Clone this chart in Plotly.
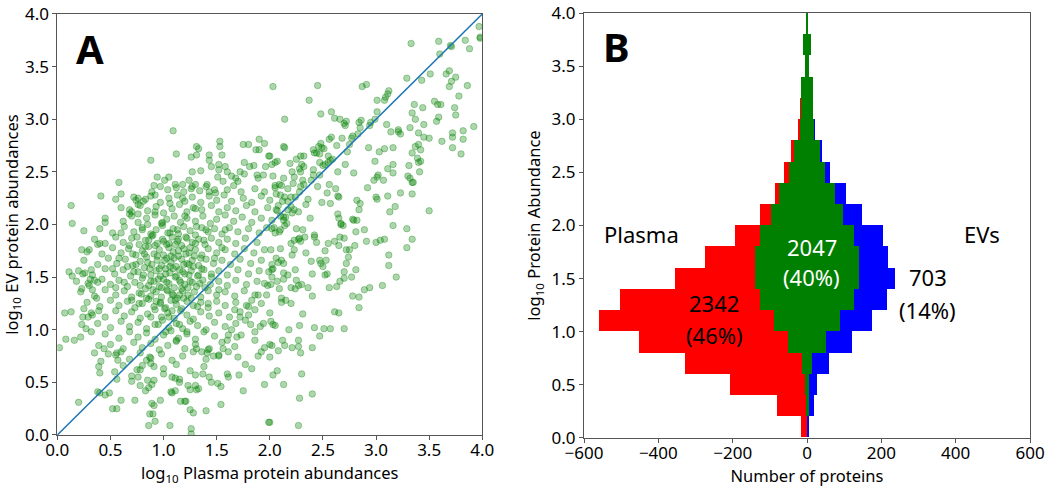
import plotly.graph_objects as go

# ---- panel A: log10 abundances of proteins seen in both plasma and EVs (plasma, EV) ----
upper_right = [
    (2.03, 3.31), (2.45, 3.32), (2.37, 3.18), (2.14, 3.00), (2.87, 3.31), (2.91, 3.33), (3.33, 3.72), (3.59, 3.74),
    (3.60, 3.62), (3.70, 3.70), (3.71, 3.69), (3.84, 3.75), (3.88, 3.67), (3.97, 3.88), (3.98, 3.78), (3.98, 3.77),
    (3.29, 3.39), (3.43, 3.37), (3.51, 3.43), (3.66, 3.43), (3.69, 3.46), (3.75, 3.40), (3.71, 3.36), (3.69, 3.31),
    (3.86, 3.32), (3.78, 3.22), (3.12, 3.27), (3.11, 3.24), (3.09, 3.21), (3.08, 3.18), (3.01, 3.18), (3.01, 3.07),
    (2.58, 3.07), (2.48, 3.05), (2.61, 3.01), (2.66, 3.00), (2.72, 2.98), (2.71, 2.94), (2.70, 2.96), (2.84, 2.97),
    (2.86, 2.99), (2.95, 2.97), (2.94, 2.94), (2.99, 3.00), (2.85, 2.92), (2.83, 2.86), (3.10, 2.95), (3.36, 3.14),
    (3.55, 3.17), (3.58, 3.14), (3.61, 3.14), (3.44, 3.11), (3.74, 3.11), (3.75, 3.04), (3.34, 3.06), (3.37, 3.00),
    (3.59, 3.02), (3.57, 2.98), (3.45, 2.95), (3.32, 2.92), (3.21, 2.90), (3.21, 2.88), (3.23, 2.86), (3.14, 2.88),
    (3.40, 2.87), (3.45, 2.83), (3.50, 2.82), (3.72, 2.87), (3.72, 2.83), (3.82, 2.89), (3.92, 2.93), (3.62, 2.79),
    (3.82, 2.81), (3.72, 2.73), (3.80, 2.67), (3.37, 2.74), (3.40, 2.76), (3.42, 2.71), (3.34, 2.68), (3.39, 2.63),
    (3.40, 2.59), (3.42, 2.60), (3.31, 2.56), (3.41, 2.50), (3.30, 2.46), (3.32, 2.44), (3.34, 2.40), (3.35, 2.40),
    (3.34, 2.29), (3.50, 2.13), (3.23, 2.30), (3.16, 2.57), (3.11, 2.53), (3.16, 2.49), (3.07, 2.42), (2.93, 2.73),
    (3.03, 2.69), (3.08, 2.72), (3.16, 2.73), (2.99, 2.60), (3.02, 2.47), (3.01, 2.45), (2.98, 2.42), (2.92, 2.35),
    (3.00, 2.26), (3.01, 2.24), (3.11, 2.27), (3.18, 2.17), (3.13, 2.12), (2.79, 2.49), (2.71, 2.57), (2.82, 2.04),
    (2.78, 2.05), (2.85, 2.20), (2.82, 2.23), (2.84, 2.14), (2.64, 2.10), (2.65, 2.06), (2.67, 2.01), (2.49, 2.21),
    (2.57, 2.20), (2.62, 2.34), (2.64, 2.27), (2.65, 2.26), (2.56, 2.38), (2.54, 2.30), (2.34, 2.19), (2.38, 2.06),
    (2.27, 2.12), (2.47, 2.47), (2.64, 2.50), (2.73, 2.69), (2.68, 2.82), (2.77, 2.82), (2.78, 2.84), (2.75, 2.76),
    (2.63, 2.75), (2.58, 2.83), (2.56, 2.81), (2.48, 2.77), (2.46, 2.74), (2.49, 2.73), (2.51, 2.72), (2.41, 2.71),
    (2.42, 2.68), (2.44, 2.68), (2.47, 2.67), (2.55, 2.65), (2.59, 2.62), (2.47, 2.59), (2.50, 2.56), (2.52, 2.57),
    (2.55, 2.59), (2.57, 2.61), (2.29, 2.65), (2.32, 2.65), (2.13, 2.74), (2.14, 2.73), (2.00, 2.65), (2.02, 2.57),
    (2.05, 2.59), (2.07, 2.60), (2.28, 2.53), (2.29, 2.50), (2.32, 2.55), (2.30, 2.57), (2.21, 2.50), (2.23, 2.45),
    (2.13, 2.44), (2.03, 2.46), (2.05, 2.37), (2.09, 2.38), (2.11, 2.37), (2.17, 2.34), (2.22, 2.39), (2.31, 2.42),
    (2.32, 2.38), (2.29, 2.36), (2.28, 2.31), (2.41, 2.52), (2.41, 2.47), (2.39, 2.42), (2.06, 2.29), (2.10, 2.28),
    (2.14, 2.26), (2.20, 2.26), (2.24, 2.26), (2.06, 2.14), (2.07, 2.13), (2.17, 2.22), (2.20, 2.17), (2.23, 2.14),
    (2.21, 2.11), (2.13, 2.07), (2.15, 2.07), (2.45, 2.36), (2.36, 2.24), (2.25, 2.62), (2.19, 2.58),
]

lower_right = [
    (2.25, 1.96), (2.31, 1.95), (2.02, 1.96), (2.05, 1.92), (2.09, 1.93), (2.10, 1.95), (2.14, 1.99), (2.16, 2.01),
    (2.13, 2.04), (2.04, 1.97), (2.42, 1.90), (2.42, 1.88), (2.33, 1.88), (2.20, 1.82), (2.23, 1.85), (2.27, 1.86),
    (2.29, 1.84), (2.28, 1.87), (2.44, 1.83), (2.55, 1.82), (2.61, 1.84), (2.65, 1.80), (2.66, 1.88), (2.70, 1.87),
    (2.67, 2.00), (2.69, 1.99), (2.79, 2.04), (2.81, 1.93), (2.89, 1.95), (2.91, 1.84), (3.00, 1.83), (3.04, 1.85),
    (3.08, 1.86), (3.16, 1.99), (3.29, 1.96), (3.34, 1.86), (3.29, 1.78), (2.80, 1.80), (2.72, 1.76), (2.75, 1.76),
    (2.52, 1.75), (2.34, 1.73), (2.23, 1.76), (2.21, 1.71), (2.10, 1.77), (2.01, 1.76), (2.06, 1.68), (2.08, 1.64),
    (2.11, 1.66), (2.13, 1.63), (2.02, 1.57), (2.03, 1.58), (2.13, 1.54), (2.17, 1.52), (2.24, 1.57), (2.39, 1.65),
    (2.47, 1.66), (2.48, 1.63), (2.50, 1.60), (2.53, 1.66), (2.52, 1.52), (2.54, 1.53), (2.40, 1.53), (2.72, 1.63),
    (2.74, 1.69), (2.81, 1.57), (2.70, 1.55), (2.70, 1.49), (2.66, 1.46), (2.77, 1.50), (3.12, 1.71), (3.12, 1.61),
    (3.19, 1.50), (3.06, 1.42), (2.89, 1.38), (2.94, 1.40), (2.78, 1.32), (2.84, 1.31), (2.84, 1.21), (2.63, 1.41),
    (2.56, 1.40), (2.36, 1.40), (2.25, 1.47), (2.27, 1.42), (2.30, 1.43), (2.20, 1.40), (2.24, 1.39), (2.13, 1.48),
    (2.07, 1.46), (2.09, 1.39), (2.11, 1.30), (2.15, 1.28), (2.11, 1.26), (2.20, 1.25), (2.40, 1.32), (2.31, 1.15),
    (2.61, 1.17), (2.65, 1.16), (2.42, 1.02), (2.57, 1.01), (2.47, 0.94), (2.28, 1.04), (2.18, 1.00), (2.12, 0.90),
    (2.27, 0.90), (2.14, 0.85), (2.21, 0.83), (2.27, 0.84), (2.29, 0.78), (2.40, 0.83), (2.08, 0.80), (2.00, 0.74),
    (2.03, 0.57), (2.07, 0.61), (2.30, 0.58), (2.13, 0.48), (2.28, 0.35), (2.40, 0.39), (2.00, 0.12), (2.27, 0.09),
    (2.00, 1.16), (2.01, 1.08), (2.03, 1.05), (2.05, 1.04), (2.00, 0.86), (2.02, 0.85), (2.02, 1.50), (2.01, 1.43),
    (2.70, 1.01), (2.51, 1.01),
]

left_and_bottom = [
    (1.09, 2.89), (1.12, 2.67), (0.88, 2.61), (0.94, 2.45), (0.58, 2.40), (0.41, 2.27), (0.55, 2.24), (0.60, 2.29),
    (0.13, 2.18), (0.14, 2.01), (0.45, 2.02), (1.26, 2.64), (1.31, 2.66), (1.31, 2.74), (1.33, 2.72), (1.53, 2.79),
    (1.53, 2.74), (1.55, 2.66), (1.52, 2.57), (1.43, 2.66), (1.43, 2.61), (1.45, 2.55), (1.35, 2.51), (1.27, 2.50),
    (1.75, 2.76), (1.80, 2.76), (1.90, 2.81), (1.95, 2.77), (1.87, 2.71), (1.90, 2.71), (1.99, 2.65), (1.76, 2.59),
    (1.81, 2.55), (1.85, 2.56), (1.96, 2.55), (1.88, 2.47), (1.89, 2.44), (1.94, 2.47), (1.72, 2.50), (1.76, 2.48),
    (1.58, 2.55), (1.52, 2.52), (1.60, 2.50), (1.64, 2.46), (1.68, 2.44), (1.70, 2.41), (1.01, 2.42), (1.05, 2.45),
    (1.11, 2.38), (1.18, 2.38), (1.24, 2.42), (1.27, 2.36), (1.30, 2.38), (1.41, 2.38), (1.43, 2.31), (1.48, 2.33),
    (1.51, 2.45), (1.56, 2.41), (0.91, 2.37), (0.89, 2.31), (0.92, 2.28), (0.76, 2.25), (0.74, 2.23), (0.83, 2.24),
    (0.76, 2.19), (0.68, 2.14), (0.68, 2.10), (0.25, 1.94), (0.38, 1.81), (0.40, 1.82), (0.23, 1.76), (0.28, 1.74),
    (0.11, 1.55), (0.14, 1.51), (0.24, 1.53), (0.26, 1.54), (0.32, 1.57), (0.31, 1.48), (0.35, 1.47), (0.38, 1.45),
    (0.23, 1.39), (0.29, 1.44), (0.33, 1.38), (0.37, 1.30), (0.07, 1.16), (0.13, 1.17), (0.25, 1.20), (0.24, 1.12),
    (0.29, 1.12), (0.33, 1.14), (0.39, 1.18), (0.23, 1.05), (0.27, 1.01), (0.32, 0.98), (0.08, 0.91), (0.16, 0.90),
    (0.22, 0.93), (0.02, 0.83), (0.35, 0.78), (0.39, 0.85), (0.39, 0.65), (0.41, 0.70), (0.40, 0.59), (0.38, 0.41),
    (0.40, 0.40), (0.45, 0.38), (0.49, 0.40), (0.56, 0.53), (0.54, 0.60), (0.57, 0.71), (0.56, 0.78), (0.60, 0.79),
    (0.48, 0.77), (0.44, 0.82), (0.20, 0.31), (0.52, 0.25), (0.56, 0.25), (0.60, 0.33), (0.70, 0.51), (0.73, 0.33),
    (0.76, 0.55), (0.78, 0.47), (0.83, 0.42), (0.86, 0.45), (0.89, 0.48), (0.91, 0.52), (0.78, 0.62), (0.80, 0.66),
    (0.84, 0.71), (0.87, 0.74), (0.91, 0.65), (0.89, 0.30), (0.91, 0.28), (0.87, 0.20), (0.90, 0.20), (0.92, 0.13),
    (0.86, 0.09), (0.97, 0.33), (1.06, 0.09), (1.07, 0.41), (1.08, 0.40), (1.11, 0.42), (1.16, 0.32), (1.20, 0.32),
    (1.21, 0.32), (1.08, 0.55), (1.11, 0.54), (1.15, 0.50), (1.23, 0.47), (1.25, 0.43), (1.30, 0.47), (1.31, 0.43),
    (1.33, 0.44), (1.25, 0.24), (1.28, 0.21), (1.26, 0.06), (1.26, 0.01), (1.40, 0.23), (1.37, 0.58), (1.43, 0.55),
    (1.45, 0.50), (1.51, 0.49), (1.54, 0.46), (1.54, 0.29), (1.60, 0.58), (1.61, 0.55), (1.71, 0.57), (1.75, 0.42),
    (1.77, 0.67), (1.83, 0.63), (1.89, 0.75), (1.92, 0.79), (1.95, 0.83), (1.95, 0.48), (1.99, 0.12), (1.86, 0.90),
    (1.86, 0.98), (1.91, 1.03), (1.94, 1.06), (1.77, 1.09), (1.80, 1.14), (1.70, 0.74), (1.67, 0.84), (1.61, 0.79),
    (1.56, 0.82), (1.52, 0.75), (1.47, 0.75), (1.43, 0.82), (1.41, 0.78), (1.36, 0.79), (1.31, 0.82), (1.61, 0.95),
    (1.64, 1.00), (1.69, 0.93), (1.73, 0.95), (1.82, 1.05), (1.86, 1.19), (1.92, 1.25), (1.97, 1.33), (1.67, 1.19),
    (1.72, 1.12), (1.78, 1.23), (1.83, 1.28), (1.89, 1.33), (1.95, 1.44), (1.99, 1.55),
]

core = [
    (0.97, 2.36), (1.04, 2.33), (1.12, 2.35), (1.19, 2.31), (1.26, 2.34), (1.34, 2.32), (1.40, 2.36), (1.49, 2.30),
    (1.60, 2.33), (1.66, 2.37), (1.73, 2.31), (1.86, 2.34), (1.95, 2.31), (2.05, 2.35),
    (0.72, 2.26), (0.81, 2.22), (0.88, 2.27), (0.97, 2.21), (1.05, 2.25), (1.13, 2.28), (1.20, 2.22), (1.27, 2.26),
    (1.35, 2.21), (1.43, 2.27), (1.50, 2.23), (1.57, 2.28), (1.64, 2.22), (1.75, 2.25), (1.83, 2.21), (1.92, 2.27),
    (2.00, 2.23), (2.12, 2.22),
    (0.60, 2.16), (0.70, 2.12), (0.78, 2.18), (0.85, 2.13), (0.93, 2.17), (1.00, 2.11), (1.08, 2.15), (1.15, 2.19),
    (1.22, 2.12), (1.28, 2.16), (1.36, 2.14), (1.45, 2.18), (1.52, 2.12), (1.60, 2.16), (1.68, 2.13), (1.78, 2.18),
    (1.86, 2.12), (1.98, 2.16), (2.08, 2.18), (2.17, 2.14),
    (0.45, 2.06), (0.62, 2.03), (0.70, 2.08), (0.76, 2.02), (0.84, 2.06), (0.92, 2.09), (0.98, 2.01), (1.03, 2.05),
    (1.10, 2.08), (1.16, 2.02), (1.22, 2.06), (1.30, 2.03), (1.37, 2.08), (1.44, 2.01), (1.50, 2.05), (1.58, 2.09),
    (1.66, 2.03), (1.74, 2.07), (1.83, 2.02), (1.92, 2.06), (2.02, 2.04), (2.10, 2.08),
    (0.40, 1.96), (0.52, 1.92), (0.63, 1.98), (0.72, 1.93), (0.80, 1.97), (0.88, 1.91), (0.93, 1.95), (0.99, 1.99),
    (1.04, 1.92), (1.09, 1.96), (1.14, 1.91), (1.19, 1.98), (1.25, 1.94), (1.30, 1.90), (1.36, 1.97), (1.42, 1.93),
    (1.48, 1.96), (1.55, 1.91), (1.62, 1.97), (1.70, 1.93), (1.80, 1.96), (1.90, 1.92), (1.97, 1.97),
    (0.35, 1.86), (0.45, 1.82), (0.55, 1.88), (0.62, 1.83), (0.70, 1.87), (0.77, 1.81), (0.83, 1.85), (0.89, 1.89),
    (0.94, 1.82), (0.99, 1.86), (1.03, 1.81), (1.08, 1.88), (1.13, 1.84), (1.17, 1.80), (1.22, 1.87), (1.27, 1.83),
    (1.33, 1.86), (1.39, 1.81), (1.45, 1.87), (1.52, 1.83), (1.60, 1.86), (1.68, 1.82), (1.77, 1.87), (1.88, 1.83),
    (0.30, 1.76), (0.42, 1.72), (0.52, 1.78), (0.60, 1.73), (0.67, 1.77), (0.74, 1.71), (0.80, 1.75), (0.86, 1.79),
    (0.91, 1.72), (0.96, 1.76), (1.00, 1.71), (1.05, 1.78), (1.09, 1.74), (1.14, 1.70), (1.19, 1.77), (1.24, 1.73),
    (1.30, 1.76), (1.36, 1.71), (1.42, 1.77), (1.50, 1.73), (1.58, 1.76), (1.67, 1.72), (1.76, 1.77), (1.85, 1.73),
    (1.95, 1.76),
    (0.25, 1.66), (0.38, 1.62), (0.48, 1.68), (0.56, 1.63), (0.64, 1.67), (0.71, 1.61), (0.78, 1.65), (0.84, 1.69),
    (0.89, 1.62), (0.94, 1.66), (0.98, 1.61), (1.03, 1.68), (1.07, 1.64), (1.12, 1.60), (1.17, 1.67), (1.22, 1.63),
    (1.27, 1.66), (1.33, 1.61), (1.40, 1.67), (1.47, 1.63), (1.55, 1.66), (1.63, 1.62), (1.72, 1.67), (1.82, 1.63),
    (1.92, 1.66), (2.02, 1.62),
    (0.20, 1.56), (0.33, 1.52), (0.45, 1.58), (0.54, 1.53), (0.62, 1.57), (0.69, 1.51), (0.76, 1.55), (0.82, 1.59),
    (0.88, 1.52), (0.93, 1.56), (0.97, 1.51), (1.02, 1.58), (1.06, 1.54), (1.11, 1.50), (1.15, 1.57), (1.20, 1.53),
    (1.26, 1.56), (1.32, 1.51), (1.38, 1.57), (1.45, 1.53), (1.52, 1.56), (1.60, 1.52), (1.70, 1.57), (1.80, 1.53),
    (1.90, 1.56),
    (0.18, 1.46), (0.30, 1.42), (0.42, 1.48), (0.50, 1.43), (0.58, 1.47), (0.66, 1.41), (0.73, 1.45), (0.80, 1.49),
    (0.86, 1.42), (0.91, 1.46), (0.96, 1.41), (1.00, 1.48), (1.05, 1.44), (1.10, 1.40), (1.15, 1.47), (1.20, 1.43),
    (1.25, 1.46), (1.31, 1.41), (1.37, 1.47), (1.44, 1.43), (1.52, 1.46), (1.60, 1.42), (1.68, 1.47), (1.78, 1.43),
    (1.88, 1.46), (1.98, 1.42),
    (0.22, 1.36), (0.35, 1.32), (0.45, 1.38), (0.55, 1.33), (0.63, 1.37), (0.70, 1.31), (0.77, 1.35), (0.83, 1.39),
    (0.88, 1.32), (0.93, 1.36), (0.98, 1.31), (1.03, 1.38), (1.08, 1.34), (1.13, 1.30), (1.18, 1.37), (1.23, 1.33),
    (1.29, 1.36), (1.35, 1.31), (1.42, 1.37), (1.50, 1.33), (1.58, 1.36), (1.67, 1.32), (1.76, 1.37), (1.86, 1.33),
    (0.28, 1.26), (0.40, 1.22), (0.50, 1.28), (0.58, 1.23), (0.66, 1.27), (0.73, 1.21), (0.80, 1.25), (0.86, 1.29),
    (0.91, 1.22), (0.97, 1.26), (1.02, 1.21), (1.07, 1.28), (1.12, 1.24), (1.17, 1.20), (1.22, 1.27), (1.28, 1.23),
    (1.35, 1.26), (1.42, 1.21), (1.50, 1.27), (1.58, 1.23), (1.68, 1.26), (1.80, 1.22),
    (0.32, 1.16), (0.45, 1.12), (0.55, 1.18), (0.63, 1.13), (0.70, 1.17), (0.78, 1.11), (0.85, 1.15), (0.92, 1.19),
    (0.98, 1.12), (1.04, 1.16), (1.10, 1.11), (1.16, 1.18), (1.22, 1.14), (1.28, 1.10), (1.35, 1.17), (1.43, 1.13),
    (1.52, 1.16), (1.62, 1.12), (1.72, 1.17),
    (0.38, 1.06), (0.50, 1.02), (0.60, 1.08), (0.68, 1.03), (0.76, 1.07), (0.84, 1.01), (0.92, 1.05), (0.99, 1.09),
    (1.05, 1.02), (1.12, 1.06), (1.18, 1.01), (1.25, 1.08), (1.32, 1.04), (1.40, 1.00), (1.48, 1.07), (1.58, 1.03),
    (1.68, 1.06),
    (0.45, 0.96), (0.58, 0.92), (0.68, 0.98), (0.76, 0.93), (0.84, 0.97), (0.92, 0.91), (1.00, 0.95), (1.07, 0.99),
    (1.14, 0.92), (1.22, 0.96), (1.30, 0.91), (1.38, 0.98), (1.48, 0.94), (1.60, 0.90),
    (0.50, 0.86), (0.62, 0.82), (0.72, 0.88), (0.80, 0.83), (0.88, 0.87), (0.96, 0.81), (1.04, 0.85), (1.12, 0.89),
    (1.20, 0.82), (1.30, 0.86), (1.42, 0.81), (1.55, 0.88),
    (0.55, 0.76), (0.68, 0.72), (0.78, 0.78), (0.88, 0.73), (0.98, 0.77), (1.08, 0.71), (1.18, 0.75), (1.28, 0.79),
    (1.40, 0.72), (1.52, 0.76),
    (0.62, 0.66), (0.75, 0.62), (0.88, 0.68), (1.00, 0.63), (1.12, 0.67), (1.25, 0.61), (1.38, 0.65),
    (0.70, 0.56), (0.85, 0.52), (1.00, 0.58), (1.15, 0.53), (1.30, 0.57),
]

densest = [
    (0.82, 1.72), (0.87, 1.58), (0.92, 1.80), (0.95, 1.48), (1.01, 1.66), (1.04, 1.37), (1.06, 1.92), (1.09, 1.58),
    (1.11, 1.28), (1.14, 1.75), (1.16, 1.45), (1.19, 1.62), (1.21, 1.88), (1.24, 1.52), (1.26, 1.30), (1.29, 1.70),
    (1.31, 1.98), (1.34, 1.44), (0.78, 1.42), (0.80, 1.95), (0.84, 1.30), (0.86, 1.85), (0.90, 1.38), (0.94, 1.70),
    (0.97, 1.25), (0.99, 2.02), (1.02, 1.53), (1.05, 1.82), (1.08, 1.18), (1.10, 1.68), (1.13, 1.95), (1.15, 1.33),
    (1.18, 1.55), (1.20, 2.08), (1.23, 1.40), (1.25, 1.78), (1.28, 1.60), (1.32, 1.22), (1.36, 1.58), (1.38, 1.85),
    (0.72, 1.55), (0.75, 1.88), (0.70, 1.28), (0.66, 1.60), (0.68, 1.80), (0.63, 1.45), (0.88, 1.12), (0.95, 1.05),
    (1.02, 0.98), (1.12, 0.90), (1.05, 1.12), (1.15, 1.05), (1.22, 0.98), (1.45, 1.50), (1.48, 1.68), (1.52, 1.38),
    (1.42, 1.25), (1.55, 1.78), (1.40, 1.95), (1.58, 1.95), (0.58, 1.68), (0.60, 1.92), (0.55, 1.40), (0.52, 1.58),
    (0.92, 2.12), (1.06, 2.20), (1.18, 2.25), (1.30, 2.15), (0.85, 2.00), (0.76, 2.10),
    (0.81, 1.52), (0.85, 1.64), (0.90, 1.90), (0.93, 1.27), (0.96, 1.58), (1.00, 1.84), (1.03, 1.45), (1.07, 1.70),
    (1.09, 1.33), (1.12, 1.51), (1.14, 1.86), (1.17, 1.39), (1.21, 1.72), (1.24, 1.62), (1.27, 1.45), (1.30, 1.82),
    (0.79, 1.34), (0.83, 1.79), (0.88, 1.46), (0.98, 1.40), (1.01, 1.20), (1.06, 1.60), (1.11, 1.81), (1.19, 1.30),
    (0.74, 1.62), (0.77, 1.25), (0.71, 1.72), (1.33, 1.52), (1.35, 1.68), (1.39, 1.40),
]

# ---- panel B: protein counts per 0.2-wide log10 abundance bin ----
bin_lower = [0.0, 0.2, 0.4, 0.6, 0.8, 1.0, 1.2, 1.4, 1.6, 1.8, 2.0, 2.2, 2.4, 2.6, 2.8, 3.0, 3.2, 3.4, 3.6, 3.8]
plasma_only = [15, 77, 202, 313, 403, 472, 375, 215, 135, 66, 30, 10, 12, 7, 4, 4, 2, 0, 1, 1]
both = [0, 8, 12, 28, 100, 178, 255, 280, 278, 253, 192, 150, 98, 72, 39, 30, 31, 9, 21, 3]
ev_only = [4, 14, 20, 45, 72, 87, 87, 96, 80, 79, 51, 29, 14, 4, 1, 0, 0, 0, 0, 0]
bin_width = 0.2

points = upper_right + lower_right + left_and_bottom + core + densest
plasma_abund = [p[0] for p in points]
ev_abund = [p[1] for p in points]

font = "Noto Sans"
fig = go.Figure()

fig.add_trace(go.Scatter(
    x=plasma_abund, y=ev_abund, mode="markers",
    marker=dict(size=6.5, color="rgba(0,128,0,0.32)", line=dict(width=1, color="rgba(0,128,0,0.32)")),
    xaxis="x", yaxis="y", showlegend=False, hoverinfo="skip"))
fig.add_trace(go.Scatter(
    x=[0, 4], y=[0, 4], mode="lines", line=dict(color="#1f77b4", width=1.5),
    xaxis="x", yaxis="y", showlegend=False))

centers = [b + bin_width / 2 for b in bin_lower]
red_len = [p + s / 2 for p, s in zip(plasma_only, both)]
blue_len = [e + s / 2 for e, s in zip(ev_only, both)]

fig.add_trace(go.Bar(
    y=centers, x=red_len, base=[-r for r in red_len], orientation="h", width=bin_width,
    marker=dict(color="#ff0000", line=dict(width=0)), xaxis="x2", yaxis="y2", showlegend=False))
fig.add_trace(go.Bar(
    y=centers, x=blue_len, base=[0] * len(blue_len), orientation="h", width=bin_width,
    marker=dict(color="#0000ff", line=dict(width=0)), xaxis="x2", yaxis="y2", showlegend=False))
fig.add_trace(go.Bar(
    y=centers, x=both, base=[-s / 2 for s in both], orientation="h", width=bin_width,
    marker=dict(color="#008000", line=dict(width=0)), xaxis="x2", yaxis="y2", showlegend=False))

axis_style = dict(showline=True, linecolor="#555", linewidth=1, mirror=True, ticks="outside",
                  ticklen=4, tickcolor="#555", showgrid=False, zeroline=False, automargin=False,
                  ticklabeloverflow="allow", tickfont=dict(family=font, size=17, color="black"))
title_font = dict(family=font, size=16.5, color="black")

ticks05 = [0.0, 0.5, 1.0, 1.5, 2.0, 2.5, 3.0, 3.5, 4.0]
tick05_text = ["%.1f" % t for t in ticks05]
count_ticks = [-600, -400, -200, 0, 200, 400, 600]
count_text = [("\u2212%d" % -t) if t < 0 else str(t) for t in count_ticks]

fig.update_layout(
    width=1050, height=487, margin=dict(l=0, r=0, t=0, b=0),
    paper_bgcolor="white", plot_bgcolor="white", barmode="overlay", bargap=0,
    xaxis=dict(domain=[0.0546, 0.4593], range=[0, 4], tickvals=ticks05, ticktext=tick05_text,
               ticklabelstandoff=-4,
               title=dict(text="log<sub>10</sub> Plasma protein abundances", standoff=4, font=title_font),
               **axis_style),
    yaxis=dict(domain=[0.1068, 0.9713], range=[0, 4], tickvals=ticks05, ticktext=tick05_text,
               title=dict(text="log<sub>10</sub> EV protein abundances", standoff=8, font=title_font),
               **axis_style),
    xaxis2=dict(domain=[0.5562, 0.9810], range=[-600, 600], anchor="y2", tickvals=count_ticks,
                ticktext=count_text, ticklabelstandoff=-4,
                title=dict(text="Number of proteins", standoff=4, font=title_font), **axis_style),
    yaxis2=dict(domain=[0.1012, 0.9727], range=[0, 4], anchor="x2", tickvals=ticks05, ticktext=tick05_text,
                title=dict(text="log<sub>10</sub> Protein Abundance", standoff=6, font=title_font),
                **axis_style),
)

def label(text, x, y, ref, size=22, color="black", bold=False):
    fig.add_annotation(text="<b>%s</b>" % text if bold else text, x=x, y=y, xref="x" + ref, yref="y" + ref,
                       showarrow=False, font=dict(family=font, size=size, color=color))

label("A", 0.31, 3.67, "", size=40, bold=True)
label("B", -513, 3.69, "2", size=40, bold=True)
label("Plasma", -445, 1.92, "2")
label("EVs", 470, 1.92, "2")
label("2047", 13, 1.80, "2", color="white")
label("(40%)", 13, 1.51, "2", color="white")
label("703", 325, 1.51, "2")
label("(14%)", 325, 1.20, "2")
label("2342", -250, 1.27, "2")
label("(46%)", -250, 0.97, "2")

# drop the default 8px page margin so the 1050x487 figure fills the window exactly
fig.write_html("out.html", config={"displayModeBar": False},
               post_script="document.body.style.margin='0';document.body.style.overflow='hidden';")
